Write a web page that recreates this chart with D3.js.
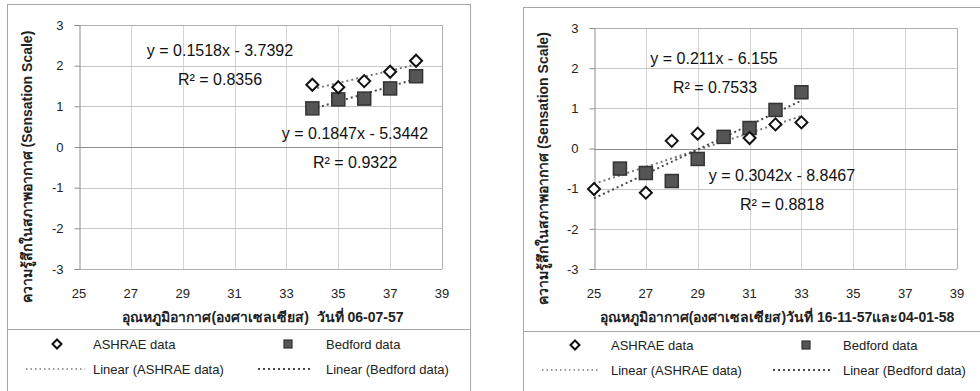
<!DOCTYPE html>
<html>
<head>
<meta charset="utf-8">
<script src="https://cdn.jsdelivr.net/npm/d3@7"></script>
<style>
  body { margin: 0; background: #fff; }
  svg { display: block; font-family: "Liberation Sans", Arial, "Noto Sans", sans-serif; }
</style>
</head>
<body>
<svg id="chart" width="980" height="391"></svg>
<script>
// ticks shared by both panels
const xTicks = [25, 27, 29, 31, 33, 35, 37, 39];
const yTicks = [-3, -2, -1, 0, 1, 2, 3];

// left panel (06-07-57)
const leftAshraeX = [34, 35, 36, 37, 38];
const leftAshraeY = [1.53, 1.47, 1.62, 1.85, 2.12];
const leftBedfordX = [34, 35, 36, 37, 38];
const leftBedfordY = [0.95, 1.17, 1.19, 1.44, 1.74];
const leftAshraeFit = [0.1518, -3.7392];
const leftBedfordFit = [0.1847, -5.3442];
const leftLabels = ['y = 0.1518x - 3.7392', 'R² = 0.8356', 'y = 0.1847x - 5.3442', 'R² = 0.9322'];

// right panel (16-11-57 and 04-01-58)
const rightAshraeX = [25, 27, 28, 29, 31, 32, 33];
const rightAshraeY = [-1.01, -1.10, 0.19, 0.37, 0.26, 0.60, 0.65];
const rightBedfordX = [26, 27, 28, 29, 30, 31, 32, 33];
const rightBedfordY = [-0.50, -0.61, -0.81, -0.26, 0.29, 0.51, 0.96, 1.40];
const rightAshraeFit = [0.211, -6.155];
const rightBedfordFit = [0.3042, -8.8467];
const rightLabels = ['y = 0.211x - 6.155', 'R² = 0.7533', 'y = 0.3042x - 8.8467', 'R² = 0.8818'];

const yTitle = 'ความรู้สึกในสภาพอากาศ (Sensation Scale)';
const xTitleLeft = ['อุณหภูมิอากาศ(องศาเซลเซียส)  ', 'วันที่ 06-07-57'];
const xTitleRight = ['อุณหภูมิอากาศ(องศาเซลเซียส)', 'วันที่ 16-11-57และ04-01-58'];
const legendNames = ['ASHRAE data', 'Bedford data', 'Linear (ASHRAE data)', 'Linear (Bedford data)'];

const svg = d3.select('#chart');

function drawPanel(cfg) {
  const g = svg.append('g');

  // chart frame and legend separator
  g.append('rect')
    .attr('x', cfg.frame[0] + 0.5).attr('y', cfg.frame[1] + 0.5)
    .attr('width', cfg.frame[2]).attr('height', cfg.frame[3])
    .attr('fill', '#fff').attr('stroke', '#a6a6a6');
  g.append('line')
    .attr('x1', cfg.frame[0]).attr('x2', cfg.frame[0] + cfg.frame[2])
    .attr('y1', cfg.legendLine + 0.5).attr('y2', cfg.legendLine + 0.5)
    .attr('stroke', '#a6a6a6');

  const x = d3.scaleLinear().domain([25, 39]).range([cfg.plot[0], cfg.plot[1]]);
  const y = d3.scaleLinear().domain([-3, 3]).range([cfg.plot[3], cfg.plot[2]]);

  // grid
  g.append('g').selectAll('line').data(xTicks.slice(1)).join('line')
    .attr('x1', d => Math.round(x(d)) + 0.5).attr('x2', d => Math.round(x(d)) + 0.5)
    .attr('y1', y(3)).attr('y2', y(-3))
    .attr('stroke', '#d4d4d4');
  g.append('g').selectAll('line').data(yTicks.filter(d => d !== 0)).join('line')
    .attr('x1', x(25)).attr('x2', x(39))
    .attr('y1', d => Math.round(y(d)) + 0.5).attr('y2', d => Math.round(y(d)) + 0.5)
    .attr('stroke', d => (d === 3 || d === -3) ? '#b0b0b0' : '#c8c8c8');
  g.append('line')
    .attr('x1', Math.round(x(39)) + 0.5).attr('x2', Math.round(x(39)) + 0.5)
    .attr('y1', y(3)).attr('y2', y(-3)).attr('stroke', '#b0b0b0');

  // y axis
  const yAxis = d3.axisLeft(y).tickValues(yTicks).tickFormat(d => String(d)).tickSize(5).tickPadding(11);
  const ya = g.append('g')
    .attr('transform', 'translate(' + (Math.round(x(25)) + 0.5) + ',0)')
    .call(yAxis);
  ya.select('.domain').attr('stroke', '#8c8c8c');
  ya.selectAll('.tick line').attr('stroke', '#8c8c8c');
  ya.selectAll('.tick text').attr('font-size', 13).attr('fill', '#222')
    .attr('font-family', '"Liberation Sans", Arial, sans-serif');

  // zero line
  g.append('line')
    .attr('x1', x(25)).attr('x2', x(39))
    .attr('y1', Math.round(y(0)) + 0.5).attr('y2', Math.round(y(0)) + 0.5)
    .attr('stroke', '#8c8c8c');

  // x tick labels (low position)
  g.append('g').selectAll('text').data(xTicks).join('text')
    .attr('x', d => x(d)).attr('y', cfg.xLabelY)
    .attr('text-anchor', 'middle').attr('font-size', 13).attr('fill', '#222')
    .text(d => d);

  // trend lines
  const line = d3.line().x(d => x(d[0])).y(d => y(d[1]));
  const fitPts = (fit, r) => r.map(v => [v, fit[0] * v + fit[1]]);
  g.append('path').attr('d', line(fitPts(cfg.ashraeFit, cfg.ashraeRange)))
    .attr('fill', 'none').attr('stroke', '#7a7a7a').attr('stroke-width', 2)
    .attr('stroke-dasharray', '2,3');
  g.append('path').attr('d', line(fitPts(cfg.bedfordFit, cfg.bedfordRange)))
    .attr('fill', 'none').attr('stroke', '#4a4a4a').attr('stroke-width', 2)
    .attr('stroke-dasharray', '2,3');

  // markers
  const ash = d3.zip(cfg.ashraeX, cfg.ashraeY);
  const bed = d3.zip(cfg.bedfordX, cfg.bedfordY);
  g.append('g').selectAll('rect').data(bed).join('rect')
    .attr('x', d => x(d[0]) - 6.5).attr('y', d => y(d[1]) - 6.5)
    .attr('width', 13).attr('height', 13)
    .attr('fill', '#555').attr('stroke', '#333').attr('stroke-width', 1.5);
  g.append('g').selectAll('path').data(ash).join('path')
    .attr('transform', d => 'translate(' + x(d[0]) + ',' + y(d[1]) + ')')
    .attr('d', 'M0,-6L6,0L0,6L-6,0Z')
    .attr('fill', '#fff').attr('stroke', '#111').attr('stroke-width', 2);

  // equations
  g.append('g').selectAll('text').data(cfg.labels).join('text')
    .attr('x', (d, i) => cfg.labelPos[i][0]).attr('y', (d, i) => cfg.labelPos[i][1])
    .attr('text-anchor', 'middle').attr('dominant-baseline', 'central')
    .attr('font-size', 16).attr('fill', '#111')
    .text(d => d);

  // axis titles
  g.append('text')
    .attr('transform', 'translate(' + cfg.yTitleX + ',' + (y(0) + 20) + ') rotate(-90)')
    .attr('text-anchor', 'middle').attr('dominant-baseline', 'central')
    .attr('font-size', 14).attr('font-weight', 'bold').attr('fill', '#222')
    .text(yTitle);
  const xt = g.append('text')
    .attr('x', cfg.xTitleX).attr('y', cfg.xTitleY)
    .attr('text-anchor', 'middle').attr('dominant-baseline', 'central')
    .attr('font-size', 14).attr('font-weight', 'bold').attr('fill', '#222')
    .attr('xml:space', 'preserve');
  xt.append('tspan').text(cfg.xTitle[0]);
  xt.append('tspan').text(cfg.xTitle[1]);

  // legend
  const L = cfg.legend;
  g.append('path')
    .attr('transform', 'translate(' + L.c1 + ',' + L.r1 + ')')
    .attr('d', 'M0,-4.5L4.5,0L0,4.5L-4.5,0Z')
    .attr('fill', '#fff').attr('stroke', '#111').attr('stroke-width', 2);
  g.append('rect')
    .attr('x', L.c2 - 4).attr('y', L.r1 - 4).attr('width', 8).attr('height', 8)
    .attr('fill', '#555').attr('stroke', '#333').attr('stroke-width', 1.2);
  g.append('line').attr('x1', L.l1[0]).attr('x2', L.l1[1]).attr('y1', L.r2).attr('y2', L.r2)
    .attr('stroke', '#7a7a7a').attr('stroke-width', 1.5).attr('stroke-dasharray', '1.5,3');
  g.append('line').attr('x1', L.l2[0]).attr('x2', L.l2[1]).attr('y1', L.r2).attr('y2', L.r2)
    .attr('stroke', '#4a4a4a').attr('stroke-width', 2).attr('stroke-dasharray', '2,3');
  const lt = [[L.t1, L.r1], [L.t2, L.r1], [L.t1, L.r2], [L.t2, L.r2]];
  g.append('g').selectAll('text').data(legendNames).join('text')
    .attr('x', (d, i) => lt[i][0]).attr('y', (d, i) => lt[i][1])
    .attr('dominant-baseline', 'central')
    .attr('font-size', 13).attr('fill', '#222')
    .text(d => d);
}

drawPanel({
  frame: [7, 4, 463, 400], legendLine: 329,
  plot: [79, 442, 25, 269],
  xLabelY: 298, yTitleX: 27, xTitleX: 263, xTitleY: 317, xTitle: xTitleLeft,
  ashraeX: leftAshraeX, ashraeY: leftAshraeY, bedfordX: leftBedfordX, bedfordY: leftBedfordY,
  ashraeFit: leftAshraeFit, bedfordFit: leftBedfordFit,
  ashraeRange: [34, 38], bedfordRange: [34, 38],
  labels: leftLabels, labelPos: [[220, 50], [220, 79], [355, 133], [355, 162]],
  legend: { r1: 344, r2: 369, c1: 57, c2: 288, t1: 93, t2: 326, l1: [26, 85], l2: [258, 313] }
});

drawPanel({
  frame: [523, 7, 470, 400], legendLine: 331,
  plot: [594, 957, 28, 269],
  xLabelY: 298, yTitleX: 543, xTitleX: 777, xTitleY: 317, xTitle: xTitleRight,
  ashraeX: rightAshraeX, ashraeY: rightAshraeY, bedfordX: rightBedfordX, bedfordY: rightBedfordY,
  ashraeFit: rightAshraeFit, bedfordFit: rightBedfordFit,
  ashraeRange: [25, 33], bedfordRange: [25, 33],
  labels: rightLabels, labelPos: [[714, 58], [715, 87], [782, 175], [782, 204]],
  legend: { r1: 345, r2: 370, c1: 575, c2: 806, t1: 611, t2: 843, l1: [542, 600], l2: [773, 833] }
});
</script>
</body>
</html>
